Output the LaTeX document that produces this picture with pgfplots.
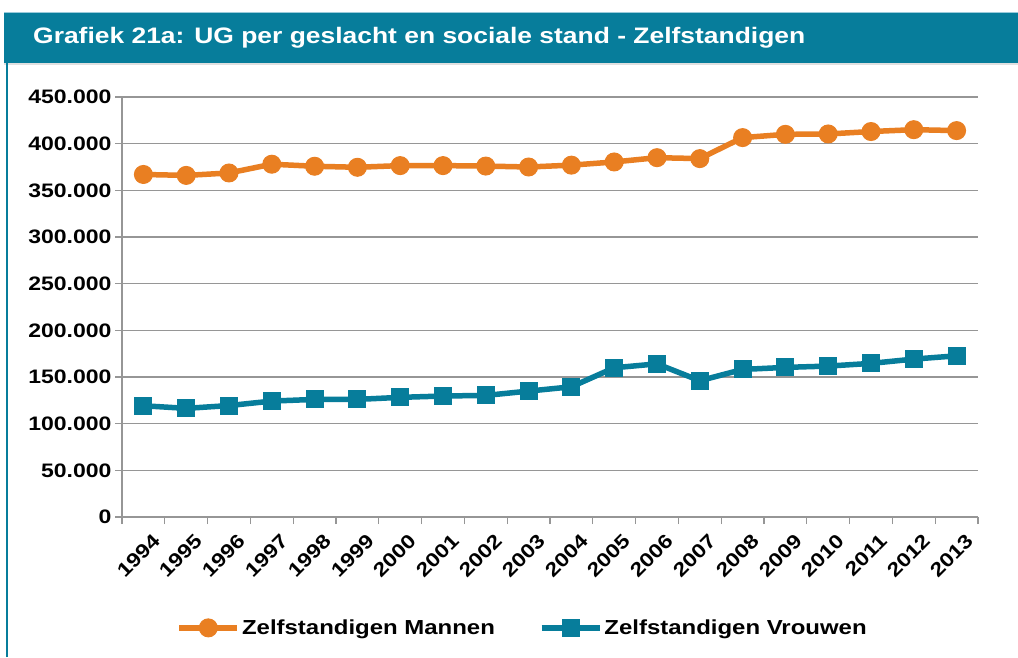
\documentclass[border=0pt]{standalone}
\usepackage{fontspec}
\setmainfont{Liberation Sans}[FakeStretch=1.18]
\usepackage{pgfplots}
\pgfplotsset{compat=1.18}
\definecolor{orng}{HTML}{E97F22}
\definecolor{teal1}{HTML}{077D9B}
\definecolor{gridg}{HTML}{969696}
\definecolor{lightb}{HTML}{9ACBDB}
\newcommand\lbl{\fontsize{19.5}{21}\selectfont\bfseries}
\newcommand\leg{\fontsize{20.3}{22}\selectfont\bfseries}
\newcommand\ttl{\fontsize{22.4}{24}\selectfont\bfseries}
\begin{document}
\begin{tikzpicture}[x=1pt,y=1pt]
\useasboundingbox (0,0) rectangle (1018,657);
\fill[white] (0,0) rectangle (1018,657);
\begin{axis}[
  at={(122pt,140pt)}, anchor=south west,
  scale only axis, width=856pt, height=420pt,
  xmin=-0.5, xmax=19.5, ymin=0, ymax=450000,
  axis lines*=left,
  axis line style={gridg, line width=1.3pt},
  ytick={0,50000,...,450000},
  scaled y ticks=false,
  yticklabel={\pgfmathprintnumber[fixed,precision=0,1000 sep={.},assume math mode=true]{\tick}},
  ymajorgrids, grid style={gridg, line width=1.3pt},
  xtick={0,...,19},
  xticklabels={1994,1995,1996,1997,1998,1999,2000,2001,2002,2003,2004,2005,2006,2007,2008,2009,2010,2011,2012,2013},
  major x tick style={draw=none},
  minor xtick={-0.5,0.5,...,19.5},
  tick align=outside,
  tick style={gridg, line width=1.3pt},
  major tick length=7pt, minor tick length=7pt,
  tick label style={font=\lbl, text=black},
  xticklabel style={rotate=45, anchor=east, xshift=3pt, yshift=-19pt},
  legend style={at={(0.468,-0.264)}, anchor=center, draw=none, fill=none, legend columns=2, font=\leg,
    /tikz/every even column/.append style={column sep=42pt}},
  legend image code/.code={\draw[mark repeat=2,mark phase=2,#1] plot coordinates {(0pt,0pt) (29pt,0pt) (58pt,0pt)};},
  clip=false,
]
\addplot[orng, line width=5.5pt, mark=*, mark size=9pt, mark options={solid, line width=1pt}] coordinates {
(0,367000) (1,366000) (2,368600) (3,378000) (4,375800) (5,374700) (6,376500) (7,376500) (8,376000) (9,375000)
(10,377000) (11,380400) (12,385000) (13,384000) (14,406500) (15,410000) (16,410400) (17,413000) (18,415000) (19,414000)};
\addlegendentry{Zelfstandigen Mannen}
\addplot[teal1, line width=5.5pt, mark=square*, mark size=8.5pt, mark options={solid, line width=1pt, rounded corners=3pt}] coordinates {
(0,119200) (1,116400) (2,119400) (3,124200) (4,126000) (5,126000) (6,128200) (7,129600) (8,130300) (9,134900)
(10,139500) (11,159900) (12,164100) (13,146000) (14,158100) (15,160300) (16,161700) (17,164600) (18,169200) (19,172700)};
\addlegendentry{Zelfstandigen Vrouwen}
\end{axis}
\fill[teal1] (4,594) rectangle (1018,644);
\draw[lightb, line width=1.5pt] (4,644.5) -- (1018,644.5);
\draw[black!12, line width=1.5pt] (4,593) -- (1018,593);
\draw[teal1, line width=2pt] (7,0) -- (7,594);
\node[anchor=west, text=white, font=\ttl, inner sep=0pt] at (33,619) {Grafiek 21a: UG per geslacht en sociale stand - Zelfstandigen};
\end{tikzpicture}
\end{document}
